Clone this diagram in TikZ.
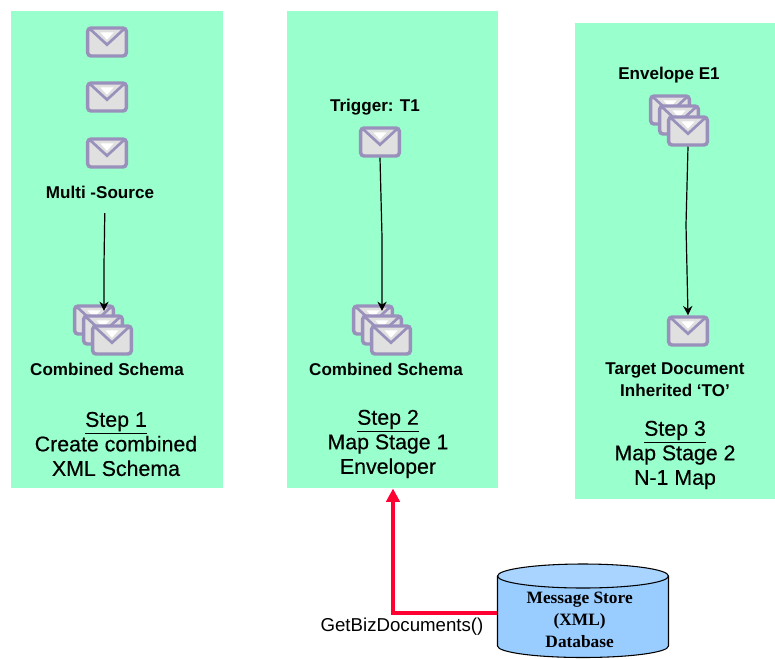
\documentclass[tikz,border=0pt]{standalone}
\usepackage{fontspec}
\setmainfont{Liberation Sans}
\newfontfamily\storefont{Liberation Serif}
\usetikzlibrary{arrows.meta}
\tikzset{
  panel/.style={fill=panelgreen,draw=none,inner sep=0pt,anchor=north west},
  envelope/.style={draw=envedge,line width=2.6pt,fill=envgray,rounded corners=2.5pt,
    minimum width=29pt,minimum height=21pt,inner sep=0pt,
    path picture={
      \draw[envedge,line width=2pt,sharp corners] ([xshift=2pt,yshift=-1pt]path picture bounding box.north west)
        -- ([yshift=-2pt]path picture bounding box.center)
        -- ([xshift=-2pt,yshift=-1pt]path picture bounding box.north east);
      \fill[white,sharp corners] ([xshift=-5pt,yshift=-3.2pt]path picture bounding box.north)
        -- ([yshift=1.7pt]path picture bounding box.center)
        -- ([xshift=5pt,yshift=-3.2pt]path picture bounding box.north) -- cycle;
    }},
  smalllabel/.style={font=\fontsize{12.8}{15}\selectfont\bfseries,inner sep=0pt},
  steplabel/.style={font=\fontsize{16}{18.4}\selectfont\addfontfeature{FakeBold=0.35},align=center,inner sep=0pt},
  wire/.style={draw=black,line width=0.9pt,-{Stealth[length=7pt,width=7pt]}},
  redline/.style={draw=linered,line width=3pt,-{Triangle[length=10pt,width=10pt]}}
}
\definecolor{panelgreen}{HTML}{99FFCC}
\definecolor{envedge}{HTML}{9A90BC}
\definecolor{envgray}{HTML}{E0E0E0}
\definecolor{linered}{HTML}{FF0033}
\definecolor{storeblue}{HTML}{99CCFF}
\definecolor{storetop}{HTML}{A8D4FF}
\begin{document}
\begin{tikzpicture}[x=0.75pt,y=-0.75pt]
    \useasboundingbox (0,0) rectangle (775,658);
    \clip (0,0) rectangle (775,658);

    % Panels
    \node[panel,minimum width=159pt,minimum height=357.75pt] (panel1) at (11,11) {};
    \node[panel,minimum width=158.25pt,minimum height=357.75pt] (panel2) at (287,11) {};
    \node[panel,minimum width=150.75pt,minimum height=357pt] (panel3) at (575,23) {};

    % Step 1
    \node[envelope] (src1) at (107,42) {};
    \node[envelope] (src2) at (107,97) {};
    \node[envelope] (src3) at (107,153) {};
    \node[smalllabel] (multi) at (100,192) {Multi -Source};
    \node[envelope] (comb1a) at (94,320) {};
    \node[envelope] (comb1b) at (103,330) {};
    \node[envelope] (comb1c) at (112,340) {};
    \coordinate (bend1) at (104,265);
    \draw[wire,shorten <=11pt,shorten >=-5pt] (multi.south -| 105,0) -- (bend1) -- (bend1 |- comb1a.north);
    \node[smalllabel] (comb1) at (107,369) {Combined Schema};
    \node[steplabel] (step1) at (116,444) {\underline{Step 1}\\Create combined\\XML Schema};

    % Step 2
    \node[smalllabel] (trigger) at (375,107) {Trigger: T1};
    \node[envelope] (trig) at (380,142) {};
    \node[envelope] (comb2a) at (373,320) {};
    \node[envelope] (comb2b) at (382,330) {};
    \node[envelope] (comb2c) at (391,340) {};
    \coordinate (bend2) at (382,237);
    \draw[wire,shorten >=-5pt] (trig.south) -- (bend2) -- (bend2 |- comb2a.north);
    \node[smalllabel] (comb2) at (386,369) {Combined Schema};
    \node[steplabel] (step2) at (388,444) {\underline{Step 2}\\Map Stage 1\\Enveloper};

    % Step 3
    \node[smalllabel] (envlabel) at (669,75) {Envelope E1};
    \node[envelope] (env3a) at (670,110) {};
    \node[envelope] (env3b) at (679,120) {};
    \node[envelope] (env3c) at (688,131) {};
    \node[envelope] (target) at (688,331) {};
    \coordinate (bend3) at (686,225);
    \draw[wire] (env3c.south) -- (bend3) -- (target.north);
    \node[smalllabel,align=center,font=\fontsize{12.8}{16.5}\selectfont\bfseries] (targetlabel) at (675,380) {Target Document\\Inherited `TO'};
    \node[steplabel] (step3) at (675,455) {\underline{Step 3}\\Map Stage 2\\N-1 Map};

    % Message store
    \draw[black,line width=0.8pt,fill=storeblue] (497.5,576) -- (497.5,646)
      arc[start angle=180,end angle=0,x radius=85.5,y radius=11.5] -- (668.5,576);
    \draw[black,line width=0.8pt,fill=storetop] (583,576) ellipse [x radius=85.5,y radius=12];
    \node[font=\storefont\fontsize{13}{16.5}\selectfont\bfseries,align=center,inner sep=0pt,
      minimum width=128.25pt] (store) at (583,620) {\hspace*{-5pt}Message Store\\\hspace*{-5pt}(XML)\\\hspace*{-5pt}Database};

    % Fetch from the store
    \coordinate (corner) at (393,613);
    \draw[redline] (store.west |- corner) -- (corner) -- (panel2.south -| corner);
    \node[font=\fontsize{14}{17}\selectfont,inner sep=0pt] (getbiz) at (402,627) {GetBizDocuments()};
\end{tikzpicture}
\end{document}
